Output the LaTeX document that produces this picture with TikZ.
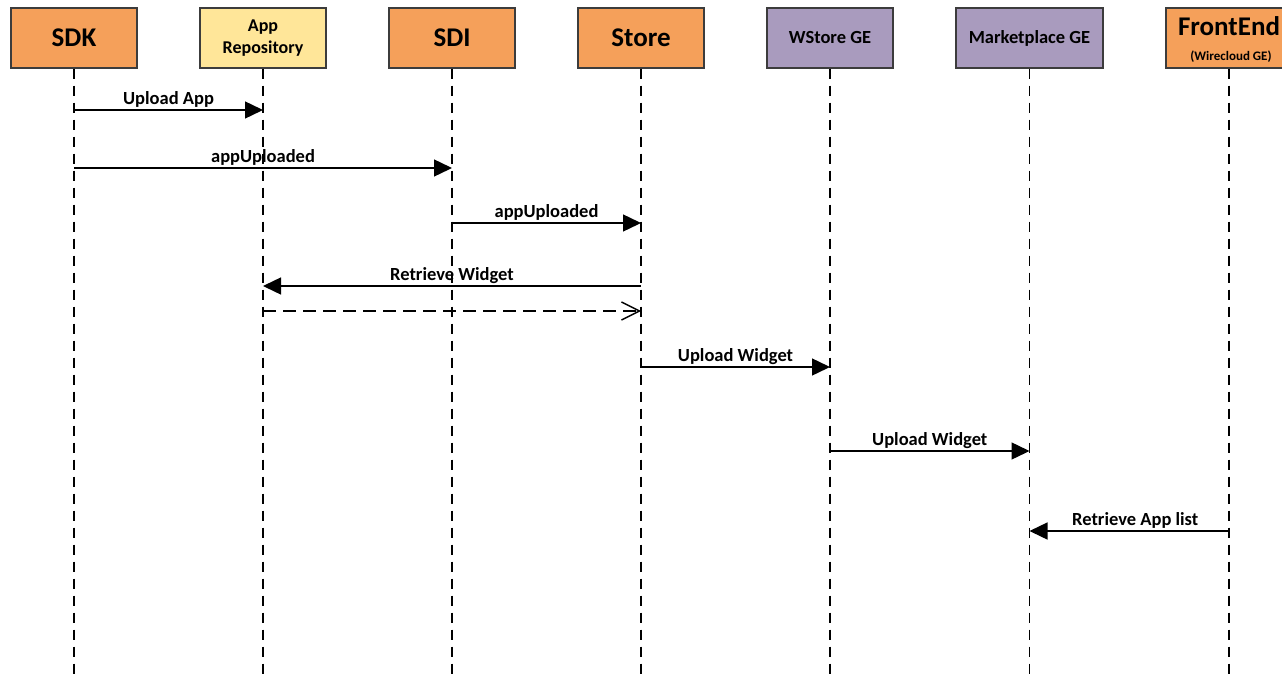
\documentclass[tikz,border=0pt]{standalone}
\usepackage{fontspec}
\setmainfont{Carlito}
\usetikzlibrary{arrows.meta}
\definecolor{orangebox}{RGB}{245,160,90}
\definecolor{yellowbox}{RGB}{255,230,153}
\definecolor{purplebox}{RGB}{169,155,190}
\definecolor{edgegray}{RGB}{60,60,60}
\begin{document}
\begin{tikzpicture}[x=1pt,y=-1pt,
  actor/.style={draw=edgegray,line width=1.4pt,minimum width=126pt,minimum height=60pt,inner sep=0pt,align=center,font=\bfseries},
  bigtxt/.style={font=\bfseries\fontsize{27}{29}\selectfont},
  midtxt/.style={font=\bfseries\fontsize{18.5}{21}\selectfont},
  lifeline/.style={line width=1.4pt,dash pattern=on 10pt off 7pt},
  msg/.style={line width=1.4pt,-{Triangle[length=18pt,width=17pt]}},
  reply/.style={line width=1.4pt,dash pattern=on 13pt off 7pt,-{Straight Barb[length=18pt,width=18pt,line width=1.4pt]}},
  lbl/.style={above,inner sep=2pt,font=\bfseries\fontsize{18.5}{21}\selectfont}]
\useasboundingbox (0,0) rectangle (1282,680);
\node[actor,fill=orangebox,bigtxt] (sdk) at (74,38) {SDK};
\node[actor,fill=yellowbox,font=\bfseries\fontsize{18}{22}\selectfont] (repo) at (263,38) {App\\Repository};
\node[actor,fill=orangebox,bigtxt] (sdi) at (452,38) {SDI};
\node[actor,fill=orangebox,bigtxt] (store) at (641,38) {Store};
\node[actor,fill=purplebox,midtxt] (wstore) at (830,38) {WStore GE};
\node[actor,fill=purplebox,minimum width=147pt,midtxt] (market) at (1029.5,38) {Marketplace GE};
\node[actor,fill=orangebox] (front) at (1229,38) {};
\node[bigtxt,inner sep=0pt] (fronttitle) at (1229,26) {FrontEnd};
\node[font=\bfseries\fontsize{13}{15}\selectfont,inner sep=0pt] (frontsub) at (1231,57) {(Wirecloud GE)};
\foreach \n in {sdk,repo,sdi,store,wstore,market,front}
  \coordinate (\n-end) at (\n.south |- 0,680);
\foreach \n in {sdk,repo,sdi,store,wstore,market,front}
  \draw[lifeline] (\n.south) -- (\n-end);
\draw[msg] (sdk.south |- 0,110) -- node[lbl]{Upload App} (repo.south |- 0,110);
\draw[msg] (sdk.south |- 0,168) -- node[lbl]{appUploaded} (sdi.south |- 0,168);
\draw[msg] (sdi.south |- 0,223) -- node[lbl]{appUploaded} (store.south |- 0,223);
\draw[msg] (store.south |- 0,286) -- node[lbl]{Retrieve Widget} (repo.south |- 0,286);
\draw[reply] (repo.south |- 0,311) -- (store.south |- 0,311);
\draw[msg] (store.south |- 0,367) -- node[lbl]{Upload Widget} (wstore.south |- 0,367);
\draw[msg] (wstore.south |- 0,451) -- node[lbl]{Upload Widget} (market.south |- 0,451);
\draw[msg] (front.south |- 0,531) -- node[lbl,xshift=6pt]{Retrieve App list} (market.south |- 0,531);
\end{tikzpicture}
\end{document}
